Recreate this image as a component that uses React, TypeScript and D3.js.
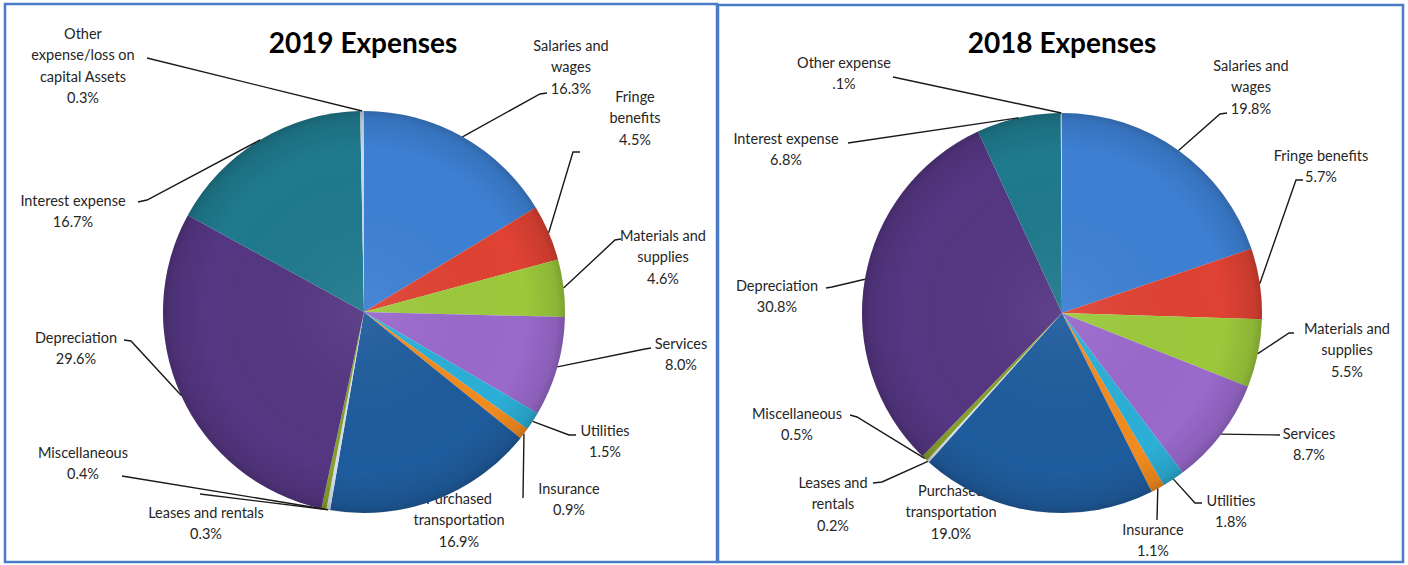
import React from "react";
import * as d3 from "d3";

const categories2019 = [
  "Salaries and wages", "Fringe benefits", "Materials and supplies", "Services",
  "Utilities", "Insurance", "Purchased transportation", "Leases and rentals",
  "Miscellaneous", "Depreciation", "Interest expense", "Other expense/loss on capital Assets",
];
const values2019 = [16.3, 4.5, 4.6, 8.0, 1.5, 0.9, 16.9, 0.3, 0.4, 29.6, 16.7, 0.3];

const categories2018 = [
  "Salaries and wages", "Fringe benefits", "Materials and supplies", "Services",
  "Utilities", "Insurance", "Purchased transportation", "Leases and rentals",
  "Miscellaneous", "Depreciation", "Interest expense", "Other expense",
];
const values2018 = [19.8, 5.7, 5.5, 8.7, 1.8, 1.1, 19.0, 0.2, 0.5, 30.8, 6.8, 0.1];
const pctOverrides2018: Record<number, string> = { 11: ".1%" };

const sliceColors = [
  "#3D80D3", "#DF4233", "#9CC93C", "#9A69CC", "#2CAFD7", "#F28B1F",
  "#1F5C9D", "#D5E0EC", "#86A02C", "#553682", "#1F7A8D", "#C9D6E3",
];

type Lay = { x: number; y: number; lines: string[]; s?: [number, number]; t?: [number, number] };

const layout2019: Lay[] = [
  { x: 571, y: 45, lines: ["Salaries and", "wages"], s: [547, 93], t: [540, 94] },
  { x: 635, y: 96, lines: ["Fringe", "benefits"], s: [580, 152], t: [573, 152] },
  { x: 663, y: 235, lines: ["Materials and", "supplies"], s: [621, 239], t: [615, 240] },
  { x: 681, y: 343, lines: ["Services"], s: [651, 348], t: [645, 349] },
  { x: 605, y: 430, lines: ["Utilities"], s: [576, 435], t: [569, 435] },
  { x: 569, y: 488, lines: ["Insurance"], s: [523, 498] },
  { x: 459, y: 498, lines: ["Purchased", "transportation"] },
  { x: 206, y: 512, lines: ["Leases and rentals"], s: [200, 494] },
  { x: 83, y: 452, lines: ["Miscellaneous"], s: [122, 476], t: [128, 477] },
  { x: 76, y: 337, lines: ["Depreciation"], s: [124, 340], t: [131, 341] },
  { x: 73, y: 200, lines: ["Interest expense"], s: [138, 202], t: [147, 200] },
  { x: 83, y: 33, lines: ["Other", "expense/loss on", "capital Assets"], s: [147, 58] },
];

const layout2018: Lay[] = [
  { x: 1251, y: 65, lines: ["Salaries and", "wages"], s: [1227, 113], t: [1220, 114] },
  { x: 1321, y: 155, lines: ["Fringe benefits"], s: [1303, 180], t: [1296, 180] },
  { x: 1347, y: 328, lines: ["Materials and", "supplies"], s: [1294, 333], t: [1289, 333] },
  { x: 1309, y: 433, lines: ["Services"], s: [1280, 435] },
  { x: 1231, y: 500, lines: ["Utilities"], s: [1202, 503], t: [1195, 503] },
  { x: 1153, y: 529, lines: ["Insurance"], s: [1157, 520] },
  { x: 951, y: 490, lines: ["Purchased", "transportation"] },
  { x: 833, y: 482, lines: ["Leases and", "rentals"], s: [873, 483], t: [882, 482] },
  { x: 797, y: 413, lines: ["Miscellaneous"], s: [850, 415], t: [857, 417] },
  { x: 777, y: 285, lines: ["Depreciation"], s: [826, 288], t: [832, 287] },
  { x: 786, y: 138, lines: ["Interest expense"], s: [848, 143] },
  { x: 844, y: 62, lines: ["Other expense"], s: [893, 77] },
];

const LH = 21.5;
const fmt = d3.format(".1f");

function Pie({ id, title, titleX, values, layout, cx, cy, r, overrides }: any) {
  const pie = d3.pie<number>().sort(null).value((d) => d);
  const arcs = pie(values);
  const arc = d3.arc<d3.PieArcDatum<number>>().innerRadius(0).outerRadius(r);
  const rim = d3.arc<d3.PieArcDatum<number>>().innerRadius(r).outerRadius(r);
  return (
    <g>
      <defs>
        <radialGradient id={`shade-${id}`} cx="0.5" cy="0.5" r="0.5">
          <stop offset="0" stopColor="#ffffff" stopOpacity={0.06} />
          <stop offset="0.8" stopColor="#000000" stopOpacity={0} />
          <stop offset="0.96" stopColor="#000000" stopOpacity={0.1} />
          <stop offset="1" stopColor="#000000" stopOpacity={0.2} />
        </radialGradient>
      </defs>
      <text x={titleX} y={42} textAnchor="middle" dominantBaseline="central"
        fontFamily="Lato, 'Open Sans', sans-serif" fontWeight={700} fontSize={28} fill="#000">
        {title}
      </text>
      {arcs.map((a, i) => {
        const L: Lay = layout[i];
        const pct = overrides && overrides[i] ? overrides[i] : fmt(values[i]) + "%";
        const lines = [...L.lines, pct];
        return (
          <text key={"t" + i} textAnchor="middle" fontFamily="Lato, 'Open Sans', sans-serif"
            fontSize={14.5} fill="#262626">
            {lines.map((ln, j) => (
              <tspan key={j} x={L.x} y={L.y + j * LH} dominantBaseline="central">{ln}</tspan>
            ))}
          </text>
        );
      })}
      <g transform={`translate(${cx},${cy})`}>
        {arcs.map((a, i) => (
          <path key={i} d={arc(a) || ""} fill={sliceColors[i]} />
        ))}
        <circle r={r} fill={`url(#shade-${id})`} />
      </g>
      {arcs.map((a, i) => {
        const L: Lay = layout[i];
        if (!L.s) return null;
        const [px, py] = rim.centroid(a);
        const pts: [number, number][] = [L.s];
        if (L.t) pts.push(L.t);
        pts.push([cx + px, cy + py]);
        return (
          <path key={"l" + i} d={d3.line()(pts) || ""} fill="none" stroke="#1a1a1a" strokeWidth={1.4} />
        );
      })}
    </g>
  );
}

export default function App() {
  return (
    <svg width={1408} height={565} style={{ position: "absolute", left: 0, top: 0, background: "#fff" }}>
      <rect x={0} y={0} width={1408} height={565} fill="#fff" />
      <Pie id="a" title="2019 Expenses" titleX={363} values={values2019} layout={layout2019}
        cx={364} cy={312} r={201} />
      <Pie id="b" title="2018 Expenses" titleX={1062} values={values2018} layout={layout2018}
        cx={1062} cy={313} r={200} overrides={pctOverrides2018} />
      <rect x={5} y={4} width={712} height={558} fill="none" stroke="#4A7BC6" strokeWidth={2.5} />
      <rect x={718} y={5} width={685} height={557} fill="none" stroke="#4A7BC6" strokeWidth={2.5} />
    </svg>
  );
}
